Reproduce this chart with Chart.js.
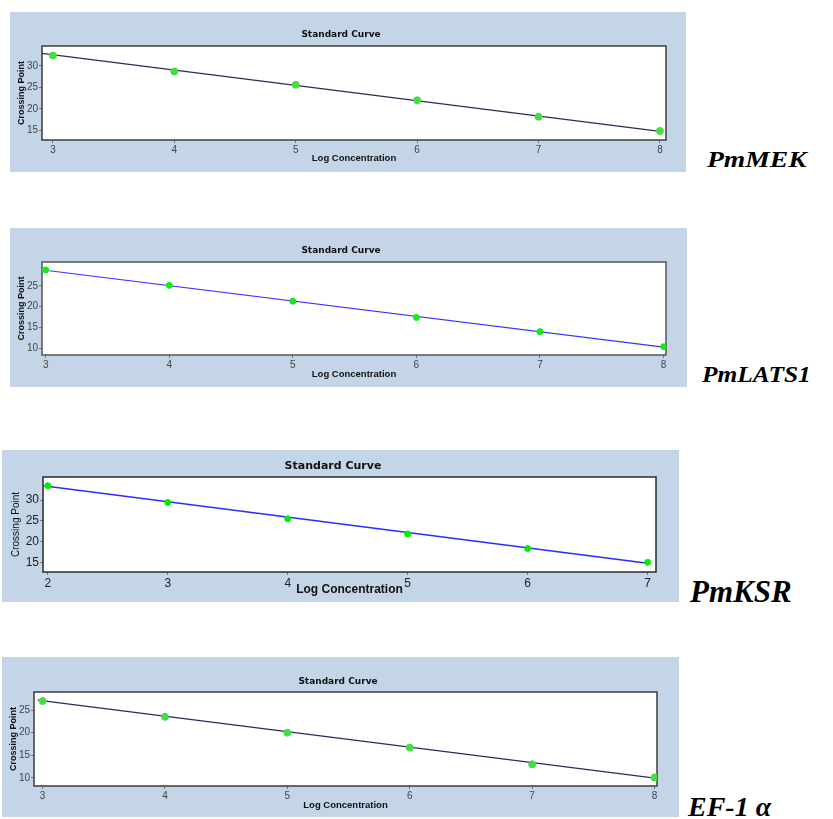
<!DOCTYPE html>
<html>
<head>
<meta charset="utf-8">
<script src="https://cdn.jsdelivr.net/npm/chart.js@4.4.1/dist/chart.umd.min.js"></script>
<style>
  body { margin: 0; background: #fff; }
  #wrap { position: relative; width: 833px; height: 819px; overflow: hidden; }
  canvas { position: absolute; background: #c3d5e6; }
  .gene {
    position: absolute; font-family: "Liberation Serif", "Times New Roman", serif;
    font-weight: bold; font-style: italic; line-height: 1; color: #000;
    white-space: nowrap; transform-origin: left center;
  }
</style>
</head>
<body>
<div id="wrap">
  <canvas id="mek" width="676" height="160" style="left:10px;top:12px"></canvas>
  <canvas id="lats" width="677" height="159" style="left:10px;top:228px"></canvas>
  <canvas id="ksr" width="677" height="152" style="left:2px;top:450px"></canvas>
  <canvas id="ef" width="677" height="160" style="left:2px;top:657px"></canvas>
  <div class="gene" style="left:707px;top:147px;font-size:24px;transform:scaleX(1.15)">PmMEK</div>
  <div class="gene" style="left:702px;top:362px;font-size:24px;transform:scaleX(1.06)">PmLATS1</div>
  <div class="gene" style="left:690px;top:576px;font-size:31px">PmKSR</div>
  <div class="gene" style="left:688px;top:793px;font-size:28px">EF-1 α</div>
</div>
<script>
// PmMEK
const mekConc = [3, 4, 5, 6, 7, 8];
const mekCp = [32.4, 28.7, 25.6, 22.0, 18.2, 14.9];
const mekFitX = [2.91, 8];
const mekFitY = [32.9, 14.8];
const mekXTicks = [3, 4, 5, 6, 7, 8];
const mekYTicks = [15, 20, 25, 30];

// PmLATS1
const latsConc = [3, 4, 5, 6, 7, 8];
const latsCp = [28.8, 25.1, 21.3, 17.4, 14.0, 10.4];
const latsFitX = [3.03, 8];
const latsFitY = [28.6, 10.3];
const latsXTicks = [3, 4, 5, 6, 7, 8];
const latsYTicks = [10, 15, 20, 25];

// PmKSR
const ksrConc = [2, 3, 4, 5, 6, 7];
const ksrCp = [33.4, 29.4, 25.5, 21.9, 18.4, 15.1];
const ksrFitX = [1.96, 7];
const ksrFitY = [33.4, 14.9];
const ksrXTicks = [2, 3, 4, 5, 6, 7];
const ksrYTicks = [15, 20, 25, 30];

// EF-1 alpha
const efConc = [3, 4, 5, 6, 7, 8];
const efCp = [27.0, 23.5, 20.0, 16.7, 13.0, 10.1];
const efFitX = [2.96, 8.02];
const efFitY = [27.2, 9.9];
const efXTicks = [3, 4, 5, 6, 7, 8];
const efYTicks = [10, 15, 20, 25];

const titleText = 'Standard Curve';
const xLabel = 'Log Concentration';
const yLabel = 'Crossing Point';

// white plot box, frame and the little title on top
const framePlugin = {
  id: 'frame',
  beforeDraw(chart, args, o) {
    const { ctx, chartArea: a } = chart;
    ctx.save();
    ctx.fillStyle = '#fff';
    ctx.fillRect(a.left, a.top, a.right - a.left, a.bottom - a.top);
    ctx.font = o.titleFont;
    ctx.fillStyle = '#111';
    ctx.textAlign = 'center';
    ctx.textBaseline = 'middle';
    ctx.fillText(titleText, o.titleX, o.titleY);
    ctx.restore();
  },
  beforeDatasetsDraw(chart, args, o) {
    const { ctx, chartArea: a } = chart;
    ctx.save();
    ctx.strokeStyle = o.color;
    ctx.lineWidth = o.width;
    ctx.strokeRect(a.left, a.top, a.right - a.left, a.bottom - a.top);
    ctx.restore();
  }
};

function pairs(xs, ys) {
  return xs.map((x, i) => ({ x: x, y: ys[i] }));
}

function makePanel(id, p) {
  const canvas = document.getElementById(id);
  const w = canvas.width, h = canvas.height;
  const [aLeft, aTop, aRight, aBottom] = p.area;
  new Chart(canvas.getContext('2d'), {
    type: 'scatter',
    data: {
      datasets: [{
        data: pairs(p.conc, p.cp),
        backgroundColor: p.pointColor,
        borderColor: p.pointColor,
        pointRadius: p.pointRadius,
        showLine: false
      }, {
        data: pairs(p.fitX, p.fitY),
        borderColor: p.lineColor,
        borderWidth: p.lineWidth,
        pointRadius: 0,
        showLine: true
      }]
    },
    options: {
      responsive: false,
      animation: false,
      devicePixelRatio: 1,
      layout: { padding: { top: aTop, right: w - aRight, left: 0, bottom: 0 } },
      plugins: {
        legend: { display: false },
        tooltip: { enabled: false },
        frame: { color: p.frameColor, width: 1.5, titleFont: p.titleFont, titleX: p.titleX, titleY: p.titleY }
      },
      scales: {
        x: {
          type: 'linear',
          min: p.xMin, max: p.xMax,
          afterBuildTicks: s => { s.ticks = p.xTicks.map(v => ({ value: v })); },
          afterFit: s => { s.height = h - aBottom; },
          grid: { display: true, drawOnChartArea: false, drawTicks: true, tickLength: 3, color: '#777' },
          border: { display: false },
          ticks: { font: p.tickFont, color: p.tickColor, padding: 1, maxRotation: 0 },
          title: { display: true, text: xLabel, font: p.xTitleFont, color: '#111', padding: { top: 0, bottom: p.xTitlePad } }
        },
        y: {
          type: 'linear',
          min: p.yMin, max: p.yMax,
          afterBuildTicks: s => { s.ticks = p.yTicks.map(v => ({ value: v })); },
          afterFit: s => { s.width = aLeft; },
          grid: { display: true, drawOnChartArea: false, drawTicks: true, tickLength: 3, color: '#777' },
          border: { display: false },
          ticks: { font: p.tickFont, color: p.tickColor, padding: 1 },
          title: { display: true, text: yLabel, font: p.yTitleFont, color: '#111', padding: { top: p.yTitlePad, bottom: 0 } }
        }
      }
    },
    plugins: [framePlugin]
  });
}

const sans = "'Liberation Sans', Arial, sans-serif";
const smallTitle = "bold 9px 'DejaVu Sans', Verdana, sans-serif";

makePanel('mek', {
  conc: mekConc, cp: mekCp, fitX: mekFitX, fitY: mekFitY, xTicks: mekXTicks, yTicks: mekYTicks,
  xMin: 2.91, xMax: 8.05, yMin: 12.8, yMax: 34.6,
  area: [32, 34, 656, 128],
  pointColor: '#45dc45', pointRadius: 3.5, lineColor: '#2b2b55', lineWidth: 1.2, frameColor: '#3c3c3c',
  tickFont: { family: sans, size: 10 }, tickColor: '#444',
  xTitleFont: { family: sans, size: 9.5, weight: 'bold' }, xTitlePad: 8,
  yTitleFont: { family: sans, size: 9, weight: 'bold' }, yTitlePad: 6,
  titleFont: smallTitle, titleX: 331, titleY: 23
});

makePanel('lats', {
  conc: latsConc, cp: latsCp, fitX: latsFitX, fitY: latsFitY, xTicks: latsXTicks, yTicks: latsYTicks,
  xMin: 2.97, xMax: 8.02, yMin: 8.4, yMax: 30.7,
  area: [32, 34, 656, 127],
  pointColor: '#10ee10', pointRadius: 3, lineColor: '#3535ff', lineWidth: 1.2, frameColor: '#555',
  tickFont: { family: sans, size: 10 }, tickColor: '#444',
  xTitleFont: { family: sans, size: 9.5, weight: 'bold' }, xTitlePad: 7,
  yTitleFont: { family: sans, size: 9, weight: 'bold' }, yTitlePad: 6,
  titleFont: smallTitle, titleX: 331, titleY: 23
});

makePanel('ksr', {
  conc: ksrConc, cp: ksrCp, fitX: ksrFitX, fitY: ksrFitY, xTicks: ksrXTicks, yTicks: ksrYTicks,
  xMin: 1.96, xMax: 7.07, yMin: 12.8, yMax: 35.5,
  area: [41, 27, 654, 122],
  pointColor: '#00ee00', pointRadius: 3, lineColor: '#2a2aff', lineWidth: 1.5, frameColor: '#2a2a2a',
  tickFont: { family: sans, size: 12 }, tickColor: '#222',
  xTitleFont: { family: sans, size: 12, weight: 'bold' }, xTitlePad: 5,
  yTitleFont: { family: sans, size: 10 }, yTitlePad: 8,
  titleFont: "bold 11px 'DejaVu Sans', Verdana, sans-serif", titleX: 331, titleY: 16
});

makePanel('ef', {
  conc: efConc, cp: efCp, fitX: efFitX, fitY: efFitY, xTicks: efXTicks, yTicks: efYTicks,
  xMin: 2.93, xMax: 8.02, yMin: 8.2, yMax: 29.0,
  area: [32, 35, 655, 129],
  pointColor: '#45dc45', pointRadius: 3.5, lineColor: '#2b2b55', lineWidth: 1.2, frameColor: '#3c3c3c',
  tickFont: { family: sans, size: 10 }, tickColor: '#444',
  xTitleFont: { family: sans, size: 9.5, weight: 'bold' }, xTitlePad: 6,
  yTitleFont: { family: sans, size: 9, weight: 'bold' }, yTitlePad: 6,
  titleFont: smallTitle, titleX: 336, titleY: 25
});
</script>
</body>
</html>
